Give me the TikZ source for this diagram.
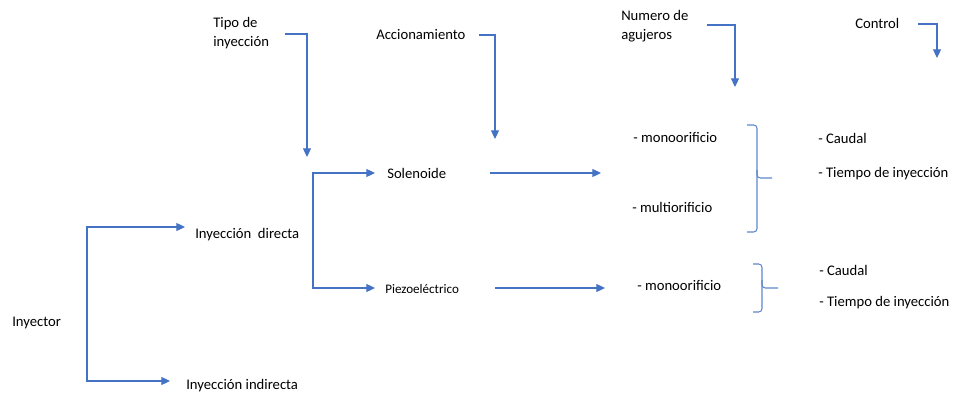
\documentclass[tikz,border=0pt]{standalone}
\usepackage{fontspec}
\setmainfont{Carlito}
\usepackage{tikz}
\usetikzlibrary{arrows.meta,calc}

\begin{document}
\begin{tikzpicture}[x=0.75pt, y=-0.75pt,
    txt/.style = {anchor=west, inner sep=0pt, font=\fontsize{11pt}{14pt}\selectfont, align=left},
    small/.style = {anchor=west, inner sep=0pt, font=\fontsize{9.8pt}{11pt}\selectfont},
    conn/.style = {draw=linkblue, line width=0.8pt, -{Triangle[length=6.5pt,width=6pt]}},
    brace/.style = {draw=linkblue!85, line width=0.8pt, rounded corners=2.5pt}]
    \definecolor{linkblue}{RGB}{68,114,196}
    \useasboundingbox (0,0) rectangle (954,396);

    % left column
    \node[txt] (iny) at (12,323) {Inyector};
    \node[txt] (dir) at (195,235) {Inyección\ \ directa};
    \node[txt] (ind) at (186,386) {Inyección indirecta};
    \coordinate (fork1) at (87,322);

    \draw[conn] (fork1) |- ($(dir.west)+(-10,-8)$);
    \draw[conn] (fork1) |- ($(ind.west)+(-16,-5)$);

    % type of actuation
    \node[txt] (tipo) at (213,33) {Tipo de\\inyección};
    \node[txt] (acc) at (376,35) {Accionamiento};
    \node[txt] (sol) at (387,173) {Solenoide};
    \node[small] (pie) at (385,289) {Piezoeléctrico};
    \coordinate (fork2) at (313,235);
    \coordinate (tipoend) at (307,157);
    \coordinate (accend) at (495,139);

    \draw[conn] ($(tipo.west)+(72,1)$) -| (tipoend);
    \draw[conn] ($(acc.west)+(103,0)$) -| (accend);
    \draw[conn] (fork2) |- ($(sol.west)+(-12,0)$);
    \draw[conn] (fork2) |- ($(pie.west)+(-10,-1)$);

    % number of holes
    \node[txt] (num) at (621,26) {Numero de\\agujeros};
    \node[txt] (mono1) at (633,137) {- monoorificio};
    \node[txt] (multi) at (632,207) {- multiorificio};
    \node[txt] (mono2) at (637,285) {- monoorificio};
    \coordinate (numend) at (735,87);

    \draw[conn] ($(num.west)+(86,-1)$) -| (numend);
    \draw[conn] ($(sol.west)+(103,0)$) -- ($(mono1.west)+(-32,36)$);
    \draw[conn] ($(pie.west)+(110,-1)$) -- ($(mono2.west)+(-32,3)$);

    % control
    \node[txt] (ctrl) at (855,23) {Control};
    \node[txt] (cau1) at (818,138) {- Caudal};
    \node[txt] (tie1) at (818,174) {- Tiempo de inyección};
    \node[txt] (cau2) at (819,270) {- Caudal};
    \node[txt] (tie2) at (819,303) {- Tiempo de inyección};
    \coordinate (ctrlend) at (937,58);

    \draw[conn] ($(ctrl.west)+(63,1)$) -| (ctrlend);

    % braces
    \draw[brace] (747,125) -- (757,125) -- (757,178) -- (772,178);
    \draw[brace] (757,170) -- (757,232) -- (747,232);
    \draw[brace] (753,264) -- (762,264) -- (762,288) -- (778,288);
    \draw[brace] (762,280) -- (762,312) -- (753,312);
\end{tikzpicture}
\end{document}
